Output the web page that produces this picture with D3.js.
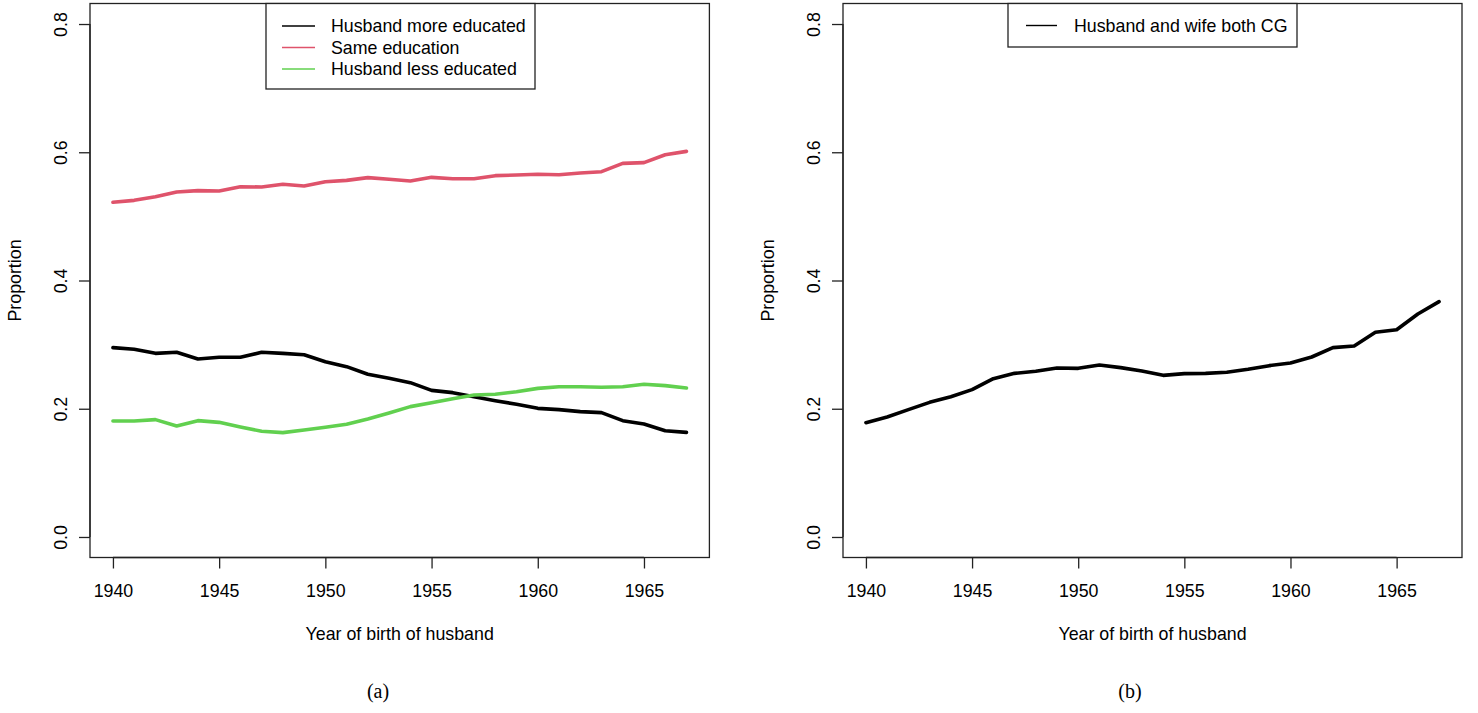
<!DOCTYPE html>
<html>
<head>
<meta charset="utf-8">
<script src="https://cdn.jsdelivr.net/npm/d3@7"></script>
<style>
  html, body { margin: 0; padding: 0; background: #fff; }
  svg { display: block; }
  text { fill: #000; }
</style>
</head>
<body>
<svg id="chart" width="1478" height="713"></svg>
<script>
// ---- data ----
const years = d3.range(1940, 1968);
const husbandMore = [0.2953, 0.2927, 0.2864, 0.2880, 0.2776, 0.2802, 0.2802, 0.2880, 0.2864, 0.2843,
  0.2734, 0.2656, 0.2537, 0.2474, 0.2407, 0.2287, 0.2251, 0.2188, 0.2126, 0.2069,
  0.2006, 0.1986, 0.1955, 0.1939, 0.1814, 0.1762, 0.1658, 0.1632];
const sameEducation = [0.5220, 0.5250, 0.5307, 0.5380, 0.5401, 0.5396, 0.5463, 0.5458, 0.5500, 0.5474,
  0.5541, 0.5562, 0.5604, 0.5578, 0.5552, 0.5609, 0.5588, 0.5588, 0.5635, 0.5645,
  0.5656, 0.5650, 0.5676, 0.5697, 0.5827, 0.5838, 0.5962, 0.6014];
const husbandLess = [0.1809, 0.1809, 0.1830, 0.1731, 0.1814, 0.1788, 0.1715, 0.1648, 0.1627, 0.1669,
  0.1710, 0.1757, 0.1840, 0.1934, 0.2033, 0.2095, 0.2157, 0.2214, 0.2225, 0.2266,
  0.2318, 0.2344, 0.2344, 0.2334, 0.2344, 0.2381, 0.2360, 0.2324];
const bothCG = [0.1783, 0.1871, 0.1986, 0.2100, 0.2188, 0.2298, 0.2469, 0.2552, 0.2584, 0.2635,
  0.2630, 0.2682, 0.2641, 0.2589, 0.2521, 0.2547, 0.2552, 0.2568, 0.2615, 0.2672,
  0.2713, 0.2807, 0.2953, 0.2979, 0.3192, 0.3233, 0.3478, 0.3670];
const xTicks = [1940, 1945, 1950, 1955, 1960, 1965];
const yTicks = [0.0, 0.2, 0.4, 0.6, 0.8];
const seriesA = [
  { name: "Husband more educated", values: husbandMore, color: "#000000" },
  { name: "Same education", values: sameEducation, color: "#DF536B" },
  { name: "Husband less educated", values: husbandLess, color: "#61D04F" }
];
const seriesB = [
  { name: "Husband and wife both CG", values: bothCG, color: "#000000" }
];

const SANS = "'Liberation Sans', Arial, Helvetica, sans-serif";
const SERIF = "'Liberation Serif', 'DejaVu Serif', serif";
const FS = 17.8;

const svg = d3.select("#chart");

function panel(opts) {
  const { left, right, top, bottom, series, legend, caption, captionX } = opts;
  const xPad = (1967 - 1940) * 0.04, yPad = 0.8 * 0.04;
  const x = d3.scaleLinear().domain([1940 - xPad, 1967 + xPad]).range([left, right]);
  const y = d3.scaleLinear().domain([0 - yPad, 0.8 + yPad]).range([bottom, top]);
  const g = svg.append("g");

  // lines
  const line = d3.line().x((d, i) => x(years[i])).y(d => y(d));
  series.forEach(s => {
    g.append("path").datum(s.values)
      .attr("d", line).attr("fill", "none")
      .attr("stroke", s.color).attr("stroke-width", 3.6)
      .attr("stroke-linejoin", "round").attr("stroke-linecap", "round");
  });

  // box
  g.append("rect").attr("x", left).attr("y", top)
    .attr("width", right - left).attr("height", bottom - top)
    .attr("fill", "none").attr("stroke", "#222").attr("stroke-width", 1.3);

  // x axis
  const xa = g.append("g").attr("transform", `translate(0,${bottom})`)
    .call(d3.axisBottom(x).tickValues(xTicks).tickFormat(d3.format("d")).tickSize(11).tickPadding(16));
  xa.select(".domain").attr("d", `M${x(1940)},0H${x(1965)}`).attr("stroke", "#222").attr("stroke-width", 1.3);
  xa.selectAll(".tick line").attr("stroke", "#222").attr("stroke-width", 1.3);
  xa.selectAll(".tick text").style("font-size", FS + "px").style("font-family", SANS).attr("fill", "#000");

  // y axis
  const ya = g.append("g").attr("transform", `translate(${left},0)`)
    .call(d3.axisLeft(y).tickValues(yTicks).tickFormat(d3.format(".1f")).tickSize(11));
  ya.select(".domain").attr("d", `M0,${y(0)}V${y(0.8)}`).attr("stroke", "#222").attr("stroke-width", 1.3);
  ya.selectAll(".tick line").attr("stroke", "#222").attr("stroke-width", 1.3);
  ya.selectAll(".tick text")
    .style("font-size", FS + "px").style("font-family", SANS).attr("fill", "#000")
    .attr("x", null).attr("dy", null)
    .attr("text-anchor", "middle")
    .attr("transform", "translate(-23,0) rotate(-90)");

  // axis titles
  g.append("text").attr("x", (left + right) / 2).attr("y", 640)
    .attr("text-anchor", "middle").style("font-size", FS + "px").style("font-family", SANS)
    .text("Year of birth of husband");
  g.append("text").attr("transform", `translate(${left - 69},${(top + bottom) / 2}) rotate(-90)`)
    .attr("text-anchor", "middle").style("font-size", FS + "px").style("font-family", SANS)
    .text("Proportion");

  // legend
  const lg = g.append("g");
  lg.append("rect").attr("x", legend.x0).attr("y", top).attr("width", legend.x1 - legend.x0)
    .attr("height", legend.y1 - top).attr("fill", "#fff").attr("stroke", "#222").attr("stroke-width", 1.3);
  series.forEach((s, i) => {
    const ly = legend.firstY + i * 21.5;
    lg.append("line").attr("x1", legend.lx0).attr("x2", legend.lx1).attr("y1", ly).attr("y2", ly)
      .attr("stroke", s.color).attr("stroke-width", 1.4);
    lg.append("text").attr("x", legend.tx).attr("y", ly + 6)
      .style("font-size", FS + "px").style("font-family", SANS).text(s.name);
  });

  // caption
  svg.append("text").attr("x", captionX).attr("y", 698).attr("text-anchor", "middle")
    .style("font-family", SERIF).style("font-size", "20px").text(caption);
}

panel({ left: 90, right: 709.4, top: 3.5, bottom: 557.5, series: seriesA,
  legend: { x0: 266, x1: 535, y1: 89, firstY: 26, lx0: 282, lx1: 315, tx: 331 },
  caption: "(a)", captionX: 378 });
panel({ left: 843, right: 1462, top: 3.5, bottom: 557.5, series: seriesB,
  legend: { x0: 1008, x1: 1297, y1: 47, firstY: 25.5, lx0: 1026, lx1: 1057, tx: 1074 },
  caption: "(b)", captionX: 1130 });
</script>
</body>
</html>
